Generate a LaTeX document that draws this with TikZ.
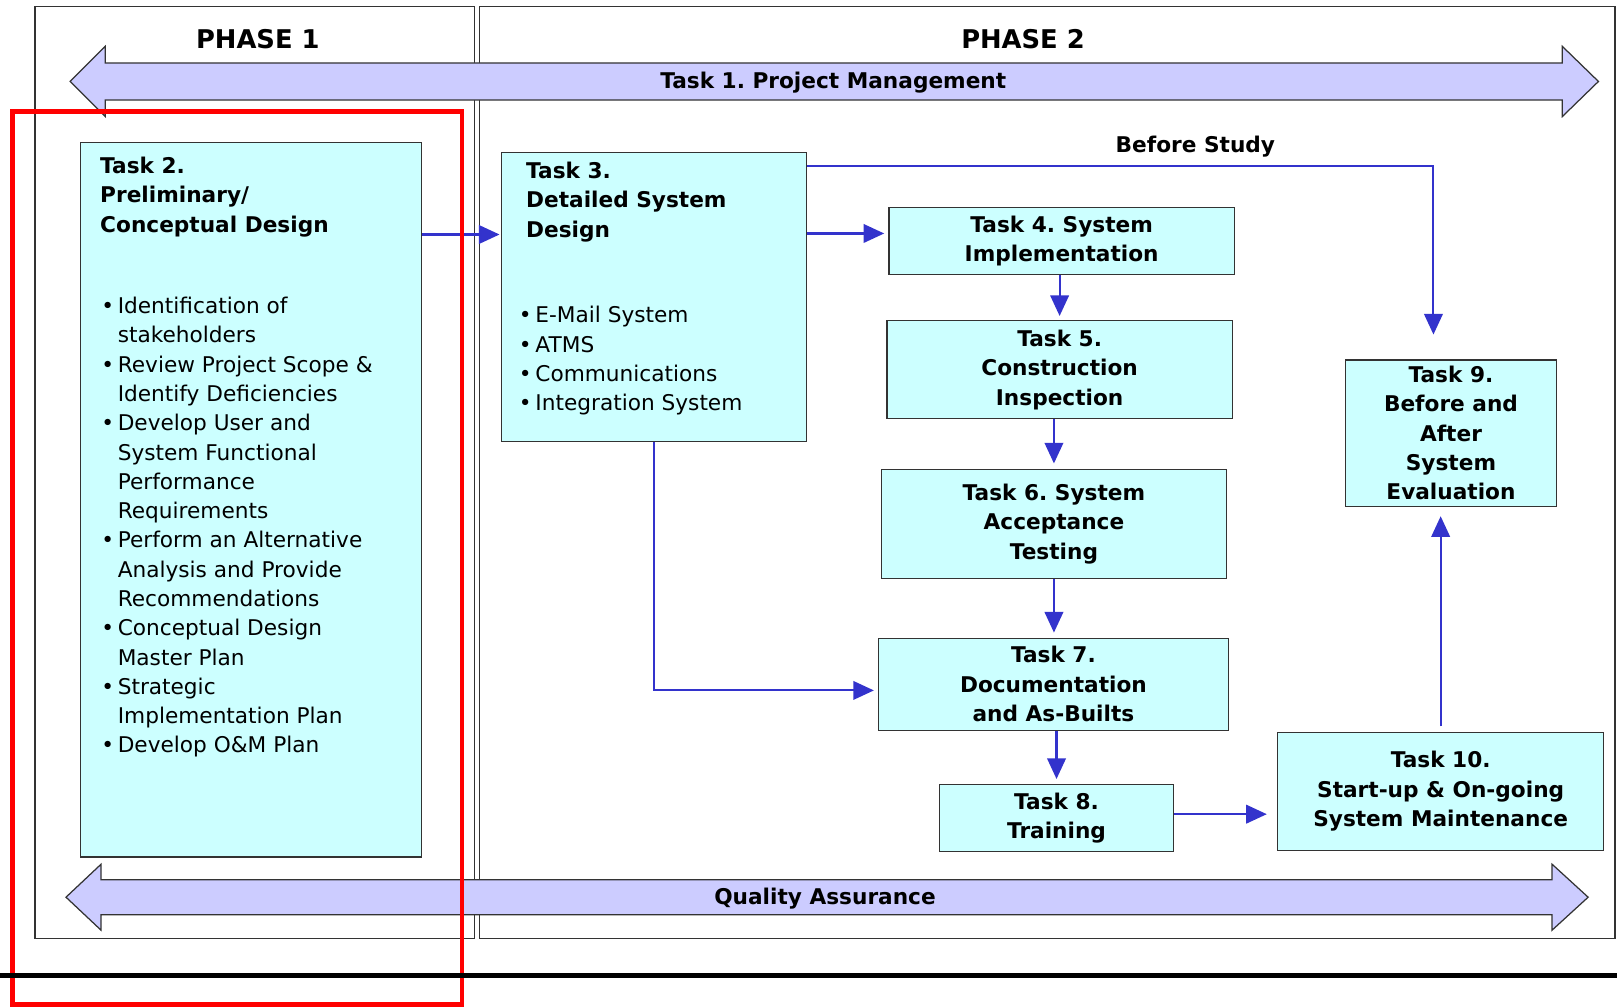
\documentclass[tikz,border=0pt]{standalone}
\usepackage{fontspec}
\setmainfont{DejaVu Sans}
\usepackage{xcolor}
\usetikzlibrary{arrows.meta,calc,positioning}
\frenchspacing

\definecolor{taskcyan}{HTML}{CCFFFF}
\definecolor{bandlilac}{HTML}{CCCCFF}
\definecolor{flowblue}{HTML}{3333CC}
\definecolor{edgegray}{HTML}{333333}

\newcommand{\boxfont}{\fontsize{21}{28.5}\selectfont\bfseries}
\newcommand{\listfont}{\fontsize{21}{28.4}\selectfont}
\newcommand{\phasefont}{\fontsize{25}{30}\selectfont\bfseries}
\newcommand{\bul}{\makebox[16pt][l]{\textbullet}}
\newcommand{\bulgap}{\hspace*{16pt}}

\begin{document}
\begin{tikzpicture}[x=1pt,y=-1pt,
  task/.style={rectangle, draw=edgegray, fill=taskcyan, line width=1.2pt, inner sep=0pt, align=center, font=\boxfont},
  flow/.style={draw=flowblue, line width=2pt, -{Triangle[length=20pt,width=18pt]}},
  band/.style={draw=edgegray, fill=bandlilac, line width=1.2pt},
  frame/.style={draw=edgegray, line width=1.2pt},
  lbl/.style={inner sep=0pt, font=\boxfont}]
\useasboundingbox (0,0) rectangle (1568,976);

% the two phases
\draw[frame] (34,6) rectangle (460,910);
\draw[frame] (465,6) rectangle (1566,910);
\node[lbl, font=\phasefont] (ph1) at (250,38) {PHASE 1};
\node[lbl, font=\phasefont] (ph2) at (992,38) {PHASE 2};

% project management and quality assurance bands
\draw[band] (68,79) -- (102,45) -- (102,61) -- (1515,61) -- (1515,45) -- (1550,79)
  -- (1515,113) -- (1515,97) -- (102,97) -- (102,113) -- cycle;
\node[lbl] (pm) at (808,80) {Task 1. Project Management};
\draw[band] (64,870) -- (98,838) -- (98,853) -- (1505,853) -- (1505,838) -- (1540,870)
  -- (1505,902) -- (1505,887) -- (98,887) -- (98,902) -- cycle;
\node[lbl] (qa) at (800,871) {Quality Assurance};

% task 2
\node[task, minimum width=331pt, minimum height=693pt] (t2) at (243.5,484.5) {};
\node[lbl, anchor=north west, align=left] (t2head) at (97,152) {Task 2.\\Preliminary/\\Conceptual Design};
\node[lbl, font=\listfont, anchor=north west, align=left] (t2list) at (98,288) {%
\bul Identification of\\ \bulgap stakeholders\\
\bul Review Project Scope \&\\ \bulgap Identify Deficiencies\\
\bul Develop User and\\ \bulgap System Functional\\ \bulgap Performance\\ \bulgap Requirements\\
\bul Perform an Alternative\\ \bulgap Analysis and Provide\\ \bulgap Recommendations\\
\bul Conceptual Design\\ \bulgap Master Plan\\
\bul Strategic\\ \bulgap Implementation Plan\\
\bul Develop O\&M Plan};

% task 3
\node[task, minimum width=296pt, minimum height=280pt] (t3) at (634,288) {};
\node[lbl, anchor=north west, align=left] (t3head) at (510,157) {Task 3.\\Detailed System\\Design};
\node[lbl, font=\listfont, anchor=north west, align=left] (t3list) at (503,297) {%
\bul E-Mail System\\ \bul ATMS\\ \bul Communications\\ \bul Integration System};

% tasks 4 to 10
\node[task, minimum width=335pt, minimum height=65pt] (t4) at (1029.5,233.5) {Task 4. System\\Implementation};
\node[task, minimum width=335pt, minimum height=95pt] (t5) at (1027.5,358.5) {Task 5.\\Construction\\Inspection};
\node[task, minimum width=334pt, minimum height=106pt] (t6) at (1022,508) {Task 6. System\\Acceptance\\Testing};
\node[task, minimum width=339pt, minimum height=89pt] (t7) at (1021.5,663.5) {Task 7.\\Documentation\\and As-Builts};
\node[task, minimum width=227pt, minimum height=65pt] (t8) at (1024.5,793.5) {Task 8.\\Training};
\node[task, minimum width=204pt, minimum height=142pt] (t9) at (1407,420) {Task 9.\\Before and\\After\\System\\Evaluation};
\node[task, minimum width=316pt, minimum height=115pt] (t10) at (1397,767.5) {Task 10.\\Start-up \& On-going\\System Maintenance};

% flow between tasks
\draw[flow, shorten >=1pt] ([yshift=-90pt]t2.north east) -- ([yshift=-80pt]t3.north west);
\draw[flow, shorten >=4pt] ([yshift=-79pt]t3.north east) -- ([yshift=-26pt]t4.north west);
\draw[flow, shorten >=4pt] (t5.north |- t4.south) -- (t5.north);
\draw[flow, shorten >=5pt] (t6.north |- t5.south) -- (t6.north);
\draw[flow, shorten >=5pt] (t6.south) -- (t6.south |- t7.north);
\draw[flow, shorten >=5pt] (t8.north |- t7.south) -- (t8.north);
\draw[flow, shorten >=4pt] (t3.south) |- ([yshift=-6pt]t7.west);
\draw[flow, shorten >=10pt] ($(t8.east)+(0,-4)$) -- ($(t8.east -| t10.west)+(0,-4)$);
\draw[flow, shorten <=5pt, shorten >=9pt] (t10.north) -- (t10.north |- t9.south);
\draw[flow, shorten >=24pt] ([yshift=-14pt]t3.north east) -| ([xshift=-17pt]t9.north)
  node[lbl, pos=0.31, above=8pt] (bstudy) {Before Study};

% marking of phase 1 and the rule under it
\draw[red, line width=4.5pt] (12,108) rectangle (448,974);
\draw[black, line width=5pt] (0,946) -- (1568,946);
\end{tikzpicture}
\end{document}
